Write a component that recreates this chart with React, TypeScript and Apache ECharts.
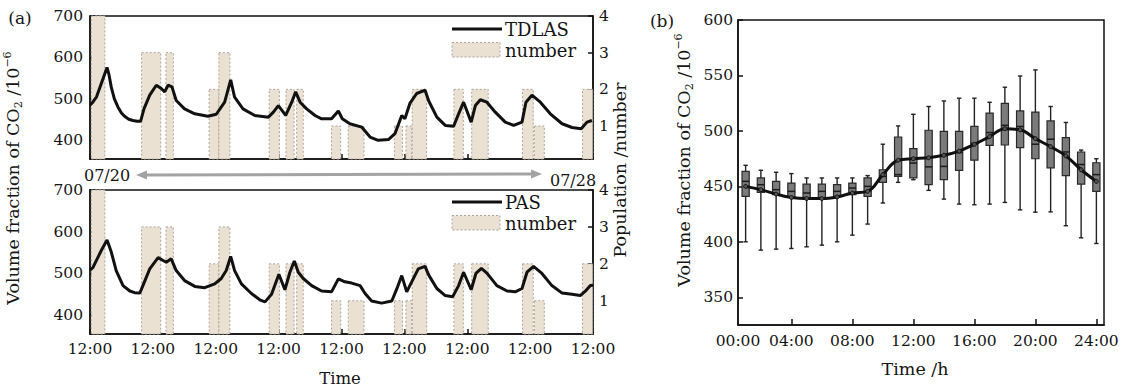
import React, { useEffect, useRef } from "react";
import * as echarts from "echarts";

const FONT = "'DejaVu Serif', 'Liberation Serif', serif";

// ---------- Panel (a) ----------
const timeTickValues = [0, 24, 48, 72, 96, 120, 144, 168, 192];
const timeTickLabels = ["12:00", "12:00", "12:00", "12:00", "12:00", "12:00", "12:00", "12:00", "12:00"];
const co2TicksA = [400, 500, 600, 700];
const popTicks = [1, 2, 3, 4];

// occupancy bars (hours since 07/20 12:00)
const barStart = [0.5, 19.7, 29.0, 45.5, 49.2, 68.4, 74.8, 78.9, 92.2, 98.6, 116.2, 120.6, 123.0, 138.9, 145.7, 165.1, 169.6, 188.0];
const barEnd = [5.7, 27.0, 31.8, 49.2, 53.4, 72.3, 77.9, 81.4, 95.7, 104.6, 119.3, 122.8, 128.5, 142.5, 152.0, 169.2, 173.4, 191.9];
const barValue = [4, 3, 3, 2, 3, 2, 2, 2, 1, 1, 1, 1, 2, 2, 2, 2, 1, 2];

const tdlasHours = [0, 0.8, 2.5, 5.0, 6.5, 7.2, 8.1, 9.3, 10.7, 12.0, 13.2, 14.8, 16.4, 18.0, 19.3, 20.6, 22.8, 25.3, 27.2, 28.5, 29.8, 31.3, 32.9, 36.1, 40.0, 45.0, 48.2, 51.4, 53.7, 55.2, 58.4, 62.9, 68.1, 70.0, 71.9, 74.7, 77.0, 78.5, 80.2, 82.7, 85.9, 88.4, 92.2, 94.8, 96.3, 99.2, 103.7, 106.9, 110.0, 113.9, 116.4, 119.0, 120.2, 122.1, 124.7, 127.9, 129.3, 132.4, 135.6, 138.8, 140.7, 142.6, 145.5, 147.1, 149.0, 151.5, 154.7, 158.5, 161.7, 164.9, 166.4, 168.7, 171.9, 175.7, 180.2, 184.0, 187.5, 189.7, 191.6];
const tdlasValues = [485, 490, 505, 549, 576, 560, 529, 500, 480, 466, 458, 451, 448, 446, 446, 476, 509, 533, 525, 517, 533, 529, 496, 476, 464, 458, 463, 492, 546, 504, 476, 460, 456, 468, 484, 460, 492, 517, 492, 476, 460, 452, 452, 471, 452, 440, 432, 408, 400, 402, 416, 460, 452, 489, 513, 521, 495, 456, 436, 434, 464, 492, 444, 484, 498, 492, 468, 444, 436, 444, 492, 509, 492, 464, 440, 431, 428, 444, 448];

const pasHours = [0, 1.1, 4.3, 6.5, 8.1, 10.0, 12.6, 15.2, 17.0, 19.0, 20.2, 22.8, 26.0, 27.9, 29.1, 31.0, 32.9, 36.1, 40.0, 43.8, 47.6, 50.1, 52.0, 53.7, 55.2, 57.8, 61.6, 64.8, 66.8, 69.3, 72.1, 74.4, 76.3, 78.0, 79.5, 81.4, 84.6, 88.4, 92.2, 94.8, 97.3, 99.9, 103.1, 105.0, 107.5, 111.3, 115.2, 117.1, 119.0, 120.9, 122.8, 125.3, 127.9, 129.3, 132.4, 135.6, 138.4, 140.7, 142.6, 145.5, 147.3, 149.4, 151.5, 155.3, 159.2, 162.3, 164.9, 166.8, 169.3, 172.5, 176.3, 180.2, 184.0, 187.1, 189.3, 191.0, 192.0];
const pasValues = [508, 514, 555, 580, 552, 507, 471, 458, 454, 453, 471, 511, 538, 531, 527, 535, 507, 483, 469, 466, 475, 488, 507, 541, 507, 475, 452, 437, 432, 450, 498, 461, 503, 530, 503, 488, 471, 458, 456, 487, 480, 477, 471, 452, 434, 429, 434, 463, 495, 456, 480, 511, 517, 496, 464, 447, 444, 471, 503, 461, 500, 512, 501, 471, 458, 456, 464, 503, 517, 500, 471, 453, 450, 447, 459, 471, 472];

// ---------- Panel (b) ----------
const hourTickValues = [0.5, 4, 8, 12, 16, 20, 24];
const hourTickLabels = ["00:00", "04:00", "08:00", "12:00", "16:00", "20:00", "24:00"];
const co2TicksB = [350, 400, 450, 500, 550, 600];
const boxHours = [1, 2, 3, 4, 5, 6, 7, 8, 9, 10, 11, 12, 13, 14, 15, 16, 17, 18, 19, 20, 21, 22, 23, 24];
const whiskerLow = [400, 392.5, 393.4, 394, 395.5, 397, 400, 406, 416, 435, 453.6, 456, 446.4, 438.5, 434, 433.4, 434, 435.5, 428.8, 426.7, 427, 414.5, 403.6, 398.5];
const quart1 = [441, 444.5, 442.5, 440.4, 438.5, 439.5, 441, 442.5, 441, 453.6, 459, 457.6, 451.5, 456, 464.5, 473.6, 487, 487.3, 485, 474.9, 466.7, 459.7, 452, 445.5];
const medians = [454.5, 451.5, 447, 445.5, 444, 445.5, 445.5, 448.5, 450, 459, 460.6, 471, 467.6, 468, 480.4, 488.8, 498.5, 505, 504, 488, 492.5, 481, 469.7, 460.6];
const quart3 = [463.6, 457.6, 454.5, 453, 452, 452, 451.5, 453, 457.6, 465, 494.5, 484, 500.6, 499.5, 499.5, 504, 516, 524.9, 518, 517, 509, 494, 481, 471.3];
const whiskerHigh = [469, 464.5, 462.7, 461.5, 457.6, 457.6, 457.6, 457.6, 459.7, 488, 504.5, 515, 522, 527, 529.5, 529.5, 525.8, 539.4, 549.5, 555, 522, 507.6, 482.7, 474.9];
const meanValues = [450, 447, 443, 440, 439, 439, 440.5, 444, 445.5, 460.6, 473.6, 474.9, 475.8, 478, 481.8, 487.9, 494.9, 502, 501, 493, 485.8, 477.5, 465, 454.5];

const CO2_MIN_A = 355;
const POP_MIN = 0.1;
const INK = "#151515";

const axisLineStyle = { show: true, lineStyle: { color: "#111", width: 1.5 } };
const labelStyle = { fontFamily: FONT, fontSize: 15.5, color: INK };

function barRender(params: any, api: any) {
  const p0 = api.coord([api.value(0), api.value(2)]);
  const p1 = api.coord([api.value(1), POP_MIN]);
  return {
    type: "rect",
    shape: { x: p0[0], y: p0[1], width: p1[0] - p0[0], height: p1[1] - p0[1] },
    style: { fill: "#ebe1d3", stroke: "#aaa39a", lineWidth: 1, lineDash: [2, 2] },
  };
}

function boxRender(params: any, api: any) {
  const x = api.value(0);
  const lo = api.coord([x, api.value(1)]);
  const q1 = api.coord([x, api.value(2)]);
  const md = api.coord([x, api.value(3)]);
  const q3 = api.coord([x, api.value(4)]);
  const hi = api.coord([x, api.value(5)]);
  const hw = 3.6;
  const cw = 2.2;
  const st = { stroke: "#222", lineWidth: 1.4 };
  return {
    type: "group",
    children: [
      { type: "line", shape: { x1: lo[0], y1: lo[1], x2: hi[0], y2: hi[1] }, style: st },
      { type: "line", shape: { x1: lo[0] - cw, y1: lo[1], x2: lo[0] + cw, y2: lo[1] }, style: st },
      { type: "line", shape: { x1: hi[0] - cw, y1: hi[1], x2: hi[0] + cw, y2: hi[1] }, style: st },
      { type: "rect", shape: { x: q3[0] - hw, y: q3[1], width: 2 * hw, height: q1[1] - q3[1] }, style: { fill: "#7b7b7b", stroke: "#2a2a2a", lineWidth: 1.2 } },
      { type: "line", shape: { x1: md[0] - hw, y1: md[1], x2: md[0] + hw, y2: md[1] }, style: { stroke: "#1a1a1a", lineWidth: 1.5 } },
    ],
  };
}

const titleRich = {
  a: { fontSize: 17.5, fontFamily: FONT, fill: INK, lineHeight: 22, verticalAlign: "middle" },
  b: { fontSize: 11, fontFamily: FONT, fill: INK, lineHeight: 11, verticalAlign: "bottom" },
  c: { fontSize: 11, fontFamily: FONT, fill: INK, lineHeight: 11, verticalAlign: "top" },
};
const co2Title = "{a|Volume fraction of CO}{b|2}{a| /10}{c|−6}";

function text(x: number, y: number, t: string, size: number, extra: any = {}) {
  return {
    type: "text",
    x,
    y,
    silent: true,
    style: { text: t, fontFamily: FONT, fontSize: size, fill: INK, align: "center", verticalAlign: "middle", ...extra },
  };
}

function legend(y0: number, name: string) {
  return [
    { type: "line", shape: { x1: 452, y1: y0, x2: 502, y2: y0 }, style: { stroke: "#111", lineWidth: 3 } },
    text(505, y0, name, 18, { align: "left" }),
    { type: "rect", shape: { x: 452, y: y0 + 13.5, width: 48, height: 14.5 }, style: { fill: "#ebe1d3", stroke: "#aaa39a", lineWidth: 1, lineDash: [2, 2] } },
    text(505, y0 + 21, "number", 18, { align: "left" }),
  ];
}

export default function App() {
  const ref = useRef<HTMLDivElement>(null);
  useEffect(() => {
    if (!ref.current) return;
    const chart = echarts.init(ref.current, null, { renderer: "svg" });

    const bars = barStart.map((s, i) => [s, barEnd[i], barValue[i]]);
    const tdlas = tdlasHours.map((h, i) => [h, tdlasValues[i]]);
    const pas = pasHours.map((h, i) => [h, pasValues[i]]);
    const boxes = boxHours.map((h, i) => [h, whiskerLow[i], quart1[i], medians[i], quart3[i], whiskerHigh[i]]);
    const means = boxHours.map((h, i) => [h, meanValues[i]]);

    const gridBase = { show: true, borderColor: "#111", borderWidth: 1.5, backgroundColor: "transparent" };

    const timeX = (gridIndex: number, showLabel: boolean) => ({
      type: "value",
      gridIndex,
      min: 0,
      max: 192,
      interval: 24,
      axisLine: axisLineStyle,
      axisTick: { show: true, inside: true, length: 5, lineStyle: { color: "#111", width: 1.5 } },
      axisLabel: {
        show: showLabel,
        ...labelStyle,
        margin: 7,
        formatter: (v: number) => timeTickLabels[timeTickValues.indexOf(v)] ?? "",
      },
      splitLine: { show: false },
    });
    const co2Y = (gridIndex: number) => ({
      type: "value",
      gridIndex,
      min: CO2_MIN_A,
      max: 700,
      axisLine: axisLineStyle,
      axisTick: { show: true, inside: true, length: 5, customValues: co2TicksA, lineStyle: { color: "#111", width: 1.5 } },
      axisLabel: { ...labelStyle, margin: 7, customValues: co2TicksA },
      splitLine: { show: false },
    });
    const popY = (gridIndex: number) => ({
      type: "value",
      gridIndex,
      position: "right",
      min: POP_MIN,
      max: 4,
      axisLine: axisLineStyle,
      axisTick: { show: true, inside: true, length: 5, customValues: popTicks, lineStyle: { color: "#111", width: 1.5 } },
      axisLabel: { ...labelStyle, margin: 6, customValues: popTicks },
      splitLine: { show: false },
    });

    const option: any = {
      animation: false,
      backgroundColor: "#fff",
      grid: [
        { ...gridBase, left: 90, top: 16, width: 503, height: 143 },
        { ...gridBase, left: 90, top: 190, width: 503, height: 144 },
        { ...gridBase, left: 738, top: 20, width: 366, height: 305 },
      ],
      xAxis: [
        timeX(0, false),
        timeX(1, true),
        {
          type: "value",
          gridIndex: 2,
          min: 0.5,
          max: 24.5,
          axisLine: axisLineStyle,
          axisTick: { show: true, inside: true, length: 6, customValues: hourTickValues.slice(1), lineStyle: { color: "#111", width: 1.5 } },
          axisLabel: {
            ...labelStyle,
            margin: 8,
            customValues: hourTickValues,
            formatter: (v: number) => hourTickLabels[hourTickValues.indexOf(v)] ?? "",
          },
          splitLine: { show: false },
        },
      ],
      yAxis: [
        co2Y(0),
        popY(0),
        co2Y(1),
        popY(1),
        {
          type: "value",
          gridIndex: 2,
          min: 325,
          max: 600,
          axisLine: axisLineStyle,
          axisTick: { show: true, inside: true, length: 5, customValues: co2TicksB, lineStyle: { color: "#111", width: 1.5 } },
          axisLabel: { ...labelStyle, margin: 5, customValues: co2TicksB },
          splitLine: { show: false },
        },
      ],
      series: [
        { type: "custom", xAxisIndex: 0, yAxisIndex: 1, renderItem: barRender, data: bars, encode: { x: [0, 1], y: 2 }, z: 1 },
        { type: "line", xAxisIndex: 0, yAxisIndex: 0, data: tdlas, showSymbol: false, lineStyle: { color: "#111", width: 3 }, z: 3 },
        { type: "custom", xAxisIndex: 1, yAxisIndex: 3, renderItem: barRender, data: bars, encode: { x: [0, 1], y: 2 }, z: 1 },
        { type: "line", xAxisIndex: 1, yAxisIndex: 2, data: pas, showSymbol: false, lineStyle: { color: "#111", width: 3 }, z: 3 },
        { type: "custom", xAxisIndex: 2, yAxisIndex: 4, renderItem: boxRender, data: boxes, encode: { x: 0, y: [1, 2, 3, 4, 5] }, z: 2 },
        {
          type: "line",
          xAxisIndex: 2,
          yAxisIndex: 4,
          data: means,
          smooth: 0.4,
          symbol: "circle",
          symbolSize: 4,
          itemStyle: { color: "#555", borderColor: "#111", borderWidth: 1 },
          lineStyle: { color: "#111", width: 3 },
          z: 4,
        },
      ],
      graphic: [
        text(20, 18, "(a)", 17),
        text(662, 21, "(b)", 17),
        { type: "text", x: 13, y: 178, rotation: Math.PI / 2, silent: true, style: { text: co2Title, rich: titleRich, align: "center", verticalAlign: "middle" } },
        { type: "text", x: 684, y: 160, rotation: Math.PI / 2, silent: true, style: { text: co2Title, rich: titleRich, align: "center", verticalAlign: "middle" } },
        { ...text(620, 170, "Population /number", 17.5), rotation: Math.PI / 2 },
        text(340, 378, "Time", 16.5),
        text(915, 369, "Time /h", 17.5),
        text(107, 175, "07/20", 16),
        text(573, 180, "07/28", 16),
        { type: "line", shape: { x1: 142, y1: 175, x2: 535, y2: 174 }, style: { stroke: "#a3a3a3", lineWidth: 3 } },
        { type: "polygon", shape: { points: [[136, 175], [147, 170.5], [147, 179.5]] }, style: { fill: "#a3a3a3" } },
        { type: "polygon", shape: { points: [[542, 174], [531, 169.5], [531, 178.5]] }, style: { fill: "#a3a3a3" } },
        ...legend(29, "TDLAS"),
        ...legend(202, "PAS"),
      ],
    };
    chart.setOption(option);
    return () => chart.dispose();
  }, []);
  return <div ref={ref} style={{ position: "absolute", left: 0, top: 0, width: 1126, height: 388 }} />;
}
